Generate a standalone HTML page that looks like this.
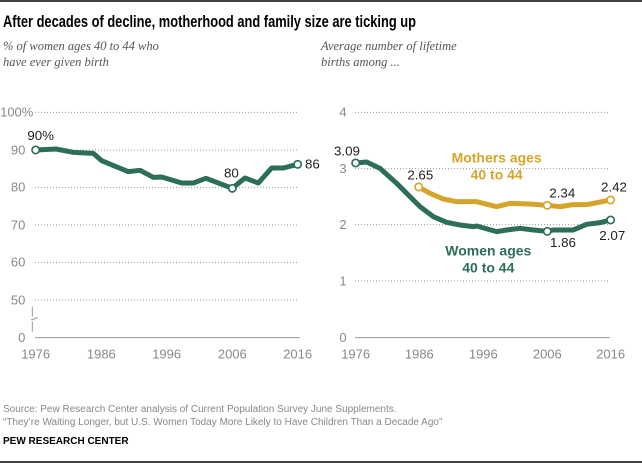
<!DOCTYPE html>
<html><head><meta charset="utf-8"><style>
body{margin:0;background:#fff;width:642px;height:464px;overflow:hidden}
svg{display:block}
.t{font-family:"Liberation Sans",sans-serif}
</style></head><body>
<svg width="642" height="464" xmlns="http://www.w3.org/2000/svg" class="t">
<line x1="0" y1="1" x2="642" y2="1" stroke="#000" stroke-width="1.5"/>
<line x1="0" y1="462" x2="642" y2="462" stroke="#000" stroke-width="1.5"/>
<text x="3" y="27" font-family="'Liberation Sans Narrow','Liberation Sans',sans-serif" font-weight="bold" font-size="17" textLength="413" lengthAdjust="spacingAndGlyphs">After decades of decline, motherhood and family size are ticking up</text>
<g font-family="'Liberation Serif',serif" font-style="italic" font-size="12.5" fill="#555">
<text x="3" y="50">% of women ages 40 to 44 who</text>
<text x="3" y="66">have ever given birth</text>
<text x="321" y="50">Average number of lifetime</text>
<text x="321" y="66">births among ...</text>
</g>
<g font-size="10" fill="#888">
<text x="3" y="412">Source: Pew Research Center analysis of Current Population Survey June Supplements.</text>
<text x="3" y="425">“They’re Waiting Longer, but U.S. Women Today More Likely to Have Children Than a Decade Ago”</text>
</g>
<text x="3" y="444" font-size="10" font-weight="bold" fill="#000">PEW RESEARCH CENTER</text>

<!-- Left chart -->
<g transform="translate(0,90) scale(0.3333)">
<g stroke="#999" stroke-width="3" stroke-dasharray="3,6">
<line x1="105" y1="67" x2="895" y2="67"/><line x1="105" y1="180" x2="895" y2="180"/>
<line x1="105" y1="292" x2="895" y2="292"/><line x1="105" y1="405" x2="895" y2="405"/>
<line x1="105" y1="517" x2="895" y2="517"/><line x1="105" y1="630" x2="895" y2="630"/>
</g>
<line x1="105" y1="743" x2="900" y2="743" stroke="#999" stroke-width="3"/>
<path d="M97,650 L97,680 M93,690 L113,683 M97,695 L97,725" stroke="#999" stroke-width="3" fill="none"/>
<g font-size="39" fill="#888" text-anchor="end">
<text x="100" y="80">100%</text><text x="76" y="193">90</text><text x="76" y="305">80</text>
<text x="76" y="418">70</text><text x="76" y="530">60</text><text x="76" y="643">50</text><text x="76" y="756">0</text>
</g>
<g font-size="39" fill="#888" text-anchor="middle">
<text x="107" y="805">1976</text><text x="304" y="805">1986</text><text x="500" y="805">1996</text>
<text x="697" y="805">2006</text><text x="893" y="805">2016</text>
</g>
<polyline fill="none" stroke="#2c6e56" stroke-width="15" stroke-linejoin="round" points="107,180 168,177 220,187 280,190 305,212 385,245 420,241 460,262 485,261 545,279 580,279 618,265 697,295 735,264 775,279 815,234 850,234 893,223"/>
<g fill="#fff" stroke="#2c6e56" stroke-width="5">
<circle cx="107" cy="180" r="11"/><circle cx="697" cy="295" r="11"/><circle cx="893" cy="223" r="11"/>
</g>
<g font-size="40" fill="#222">
<text x="82" y="150">90%</text><text x="672" y="262">80</text><text x="915" y="236">86</text>
</g>
</g>

<!-- Right chart -->
<g transform="translate(320,90) scale(0.3333)">
<g stroke="#999" stroke-width="3" stroke-dasharray="3,6">
<line x1="105" y1="67" x2="870" y2="67"/><line x1="105" y1="236" x2="870" y2="236"/>
<line x1="105" y1="404" x2="870" y2="404"/><line x1="105" y1="573" x2="870" y2="573"/>
</g>
<line x1="105" y1="743" x2="870" y2="743" stroke="#999" stroke-width="3"/>
<g font-size="39" fill="#888" text-anchor="end">
<text x="80" y="80">4</text><text x="80" y="249">3</text><text x="80" y="417">2</text>
<text x="80" y="586">1</text><text x="80" y="756">0</text>
</g>
<g font-size="39" fill="#888" text-anchor="middle">
<text x="107" y="805">1976</text><text x="298" y="805">1986</text><text x="490" y="805">1996</text>
<text x="682" y="805">2006</text><text x="872" y="805">2016</text>
</g>
<polyline fill="none" stroke="#2c6e56" stroke-width="15" stroke-linejoin="round" points="107,219 140,216 180,235 230,280 300,350 340,380 380,397 420,405 460,410 470,408 530,425 560,420 600,415 640,420 682,424 700,420 760,420 800,403 840,398 872,390"/>
<polyline fill="none" stroke="#d5a52b" stroke-width="15" stroke-linejoin="round" points="296,291 330,310 370,327 410,335 470,335 530,350 570,340 630,342 682,346 720,350 760,344 800,344 872,330"/>
<g fill="#fff" stroke="#2c6e56" stroke-width="5">
<circle cx="107" cy="219" r="11"/><circle cx="682" cy="424" r="11"/><circle cx="872" cy="390" r="11"/>
</g>
<g fill="#fff" stroke="#d5a52b" stroke-width="5">
<circle cx="296" cy="291" r="11"/><circle cx="682" cy="346" r="11"/><circle cx="872" cy="330" r="11"/>
</g>
<g font-size="40" fill="#222">
<text x="42" y="196">3.09</text><text x="262" y="268">2.65</text><text x="688" y="323">2.34</text>
<text x="843" y="305">2.42</text><text x="690" y="471">1.86</text><text x="838" y="450">2.07</text>
</g>
<g font-size="42" font-weight="bold" text-anchor="middle" fill="#d5a52b">
<text x="530" y="218">Mothers ages</text><text x="530" y="268">40 to 44</text>
</g>
<g font-size="42" font-weight="bold" text-anchor="middle" fill="#2c6e56">
<text x="505" y="497">Women ages</text><text x="505" y="547">40 to 44</text>
</g>
</g>
</svg>
</body></html>
